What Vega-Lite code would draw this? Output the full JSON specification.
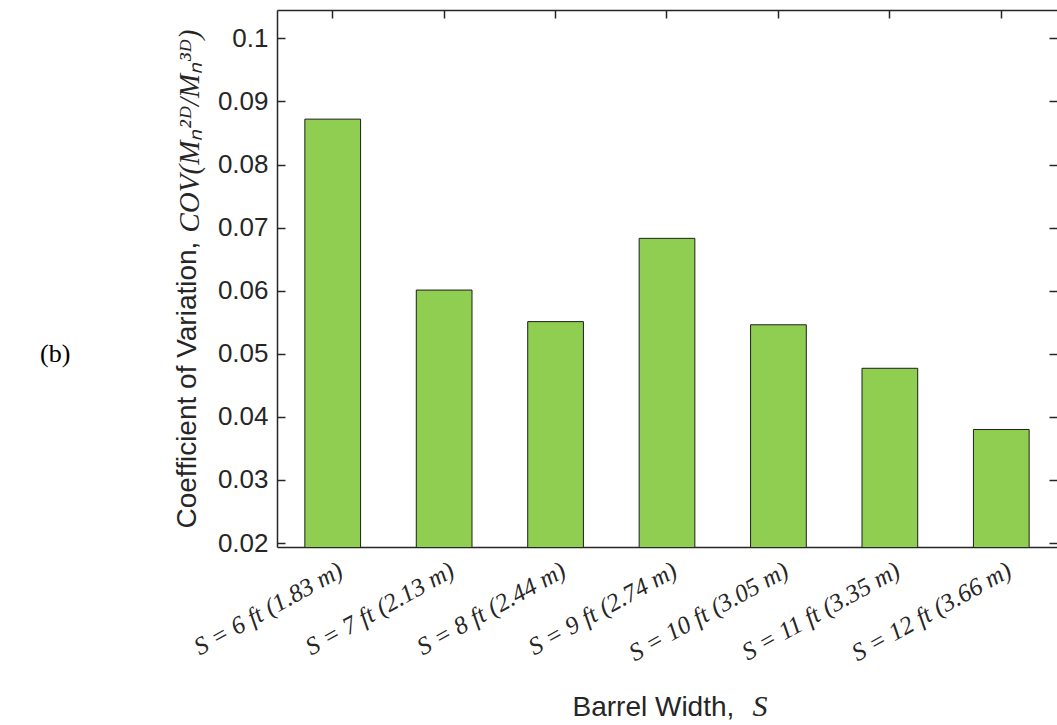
{
  "$schema": "https://vega.github.io/schema/vega-lite/v6.json",
  "autosize": {"type": "none"},
  "padding": {"left": 277, "top": 10, "right": 0, "bottom": 178},
  "width": 780,
  "height": 537,
  "background": "white",
  "config": {"view": {"stroke": null}, "axis": {"grid": false}},
  "title": {"text": "(b)", "orient": "top", "anchor": "start", "frame": "group", "font": "Liberation Serif", "fontSize": 26, "fontWeight": "normal", "color": "#000000", "dx": -237, "dy": 379, "offset": 0, "baseline": "alphabetic"},
  "data": {"values": [
    {"label": "S = 6 ft (1.83 m)", "cov": 0.0872},
    {"label": "S = 7 ft (2.13 m)", "cov": 0.0601},
    {"label": "S = 8 ft (2.44 m)", "cov": 0.0551},
    {"label": "S = 9 ft (2.74 m)", "cov": 0.0683},
    {"label": "S = 10 ft (3.05 m)", "cov": 0.0546},
    {"label": "S = 11 ft (3.35 m)", "cov": 0.0477},
    {"label": "S = 12 ft (3.66 m)", "cov": 0.0380}
  ]},
  "encoding": {
    "x": {"field": "label", "type": "nominal", "sort": null, "scale": {"paddingInner": 0.5, "paddingOuter": 0.25}},
    "y": {"field": "cov", "type": "quantitative", "scale": {"domain": [0.01937, 0.1045], "nice": false, "zero": false}}
  },
  "resolve": {"axis": {"x": "independent", "y": "independent"}},
  "layer": [
    {
      "mark": {"type": "bar", "fill": "#8fce50", "stroke": "#1e1e1e", "strokeWidth": 1, "clip": true},
      "encoding": {
        "x": {"field": "label", "type": "nominal", "sort": null, "axis": {
          "orient": "bottom", "labelAngle": -29, "labelAlign": "right", "labelBaseline": "middle",
          "labelFont": "Liberation Serif", "labelFontStyle": "italic", "labelFontSize": 25, "labelColor": "#262626",
          "labelPadding": 29, "labelOffset": 8, "labelOverlap": false, "labelLimit": 0,
          "tickSize": -8, "tickColor": "#262626", "tickWidth": 1.5,
          "domainColor": "#262626", "domainWidth": 1.5,
          "title": "Barrel Width,", "titleFont": "Liberation Sans", "titleFontSize": 28, "titleFontWeight": "normal", "titleColor": "#262626",
          "titleX": 295, "titleY": 168, "titleAlign": "left", "titleBaseline": "alphabetic", "titleAngle": 0}},
        "y": {"field": "cov", "type": "quantitative", "axis": {
          "orient": "left", "values": [0.02, 0.03, 0.04, 0.05, 0.06, 0.07, 0.08, 0.09, 0.1], "format": ".2~f",
          "labelFont": "Liberation Sans", "labelFontSize": 26, "labelColor": "#262626", "labelPadding": 17,
          "tickSize": -8, "tickColor": "#262626", "tickWidth": 1.5,
          "domainColor": "#262626", "domainWidth": 1.5,
          "title": "Coefficient of Variation,", "titleFont": "Liberation Sans", "titleFontSize": 28, "titleFontWeight": "normal", "titleColor": "#262626",
          "titleX": -82, "titleY": 518, "titleAngle": 270, "titleAlign": "left", "titleBaseline": "alphabetic"}}
      }
    },
    {
      "mark": {"type": "bar", "opacity": 0, "clip": true},
      "encoding": {
        "x": {"field": "label", "type": "nominal", "sort": null, "axis": {
          "orient": "top", "labels": false, "title": null,
          "tickSize": -8, "tickColor": "#262626", "tickWidth": 1.5,
          "domainColor": "#262626", "domainWidth": 1.5}},
        "y": {"field": "cov", "type": "quantitative", "axis": {
          "orient": "right", "labels": false, "title": null, "values": [0.02, 0.03, 0.04, 0.05, 0.06, 0.07, 0.08, 0.09, 0.1],
          "tickSize": -8, "tickColor": "#262626", "tickWidth": 1.5, "domain": false}}
      }
    },
    {
      "mark": {"type": "bar", "opacity": 0, "clip": true},
      "encoding": {
        "x": {"field": "label", "type": "nominal", "sort": null, "axis": {
          "orient": "bottom", "labels": false, "ticks": false, "domain": false,
          "title": "S", "titleFont": "Liberation Serif", "titleFontStyle": "italic", "titleFontSize": 30, "titleFontWeight": "normal", "titleColor": "#262626",
          "titleX": 475, "titleY": 168, "titleAlign": "left", "titleBaseline": "alphabetic", "titleAngle": 0}},
        "y": {"field": "cov", "type": "quantitative", "axis": {
          "orient": "left", "labels": false, "ticks": false, "domain": false,
          "title": "COV(Mₙ²ᴰ/Mₙ³ᴰ)", "titleFont": "Liberation Serif", "titleFontStyle": "italic", "titleFontSize": 29, "titleFontWeight": "normal", "titleColor": "#262626",
          "titleX": -79, "titleY": 222, "titleAngle": 270, "titleAlign": "left", "titleBaseline": "alphabetic"}}
      }
    }
  ]
}
